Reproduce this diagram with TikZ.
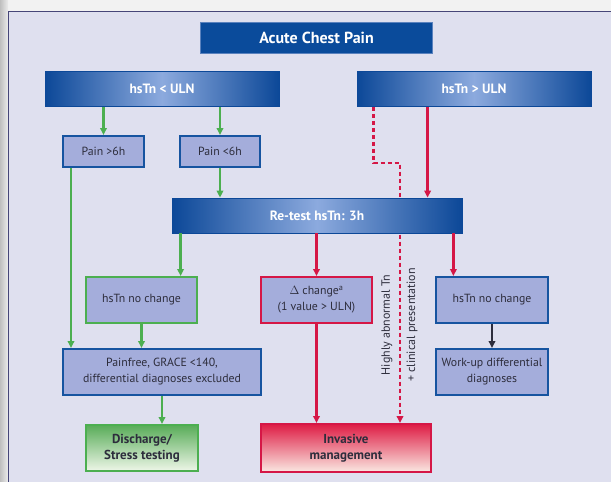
\documentclass[tikz,border=0pt]{standalone}
\usepackage{fontspec}
\setmainfont{PT Sans}
\usetikzlibrary{arrows.meta,backgrounds}
\definecolor{bgcol}{RGB}{223,224,239}
\definecolor{framecol}{RGB}{70,70,120}
\definecolor{bardark}{RGB}{12,72,152}
\definecolor{barlight}{RGB}{140,170,222}
\definecolor{titlecol}{RGB}{10,75,155}
\definecolor{boxfill}{RGB}{164,173,219}
\definecolor{boxblue}{RGB}{22,84,160}
\definecolor{boxgreen}{RGB}{76,175,80}
\definecolor{boxred}{RGB}{213,23,70}
\definecolor{txt}{RGB}{45,45,60}
\begin{document}
\begin{tikzpicture}[x=1pt,y=-1pt,
	bar/.style={draw=bardark,line width=0.8pt,left color=bardark,right color=bardark,middle color=barlight,text=white,font=\bfseries\fontsize{13.5}{16}\selectfont,minimum height=35pt,inner sep=0pt},
	box/.style={draw=boxblue,line width=2pt,fill=boxfill,text=txt,font=\fontsize{11.8}{16}\selectfont,align=center,minimum height=46pt,inner sep=0pt},
	gbox/.style={box,draw=boxgreen},
	rbox/.style={box,draw=boxred},
	arr/.style={line width=2.4pt,-{Triangle[length=7pt,width=6.5pt]}},
	garr/.style={arr,boxgreen},
	rarr/.style={arr,boxred},
	rotlabel/.style={rotate=90,text=txt,font=\fontsize{12}{13}\selectfont,inner sep=0pt}]
	\useasboundingbox (0,0) rectangle (611,482);
	%Hintergrund
	\begin{scope}[on background layer]
	\fill[gray!10] (0,0) rectangle (611,11);
	\fill[left color=gray!50,right color=gray!15] (0,0) rectangle (8,482);
	\draw[fill=bgcol,draw=framecol,line width=1pt] (8,11) rectangle (630,500);
	\end{scope}
	%Kopf
	\node[draw={rgb,255:red,90;green,130;blue,190},line width=0.8pt,fill=titlecol,text=white,font=\bfseries\fontsize{16}{18}\selectfont,minimum width=232pt,minimum height=31pt] (acp) at (316.5,37.5) {Acute Chest Pain};
	\node[bar,minimum width=234pt] (lo) at (162,89) {hsTn < ULN};
	\node[bar,minimum width=234pt] (hi) at (474,89) {hsTn > ULN};
	\node[box,minimum width=81pt,minimum height=31pt] (pg) at (103.5,151.5) {Pain >6h};
	\node[box,minimum width=80pt,minimum height=31pt] (pl) at (220,151.5) {Pain <6h};
	\node[bar,minimum width=290pt] (rt) at (317,215.5) {Re-test hsTn: 3h};
	%Mitte
	\node[gbox,minimum width=111pt] (nc1) at (141.5,300) {hsTn no change};
	\node[rbox,minimum width=111pt] (dc) at (316.5,300) {$\Delta$ change\textsuperscript{a}\\(1 value > ULN)};
	\node[box,minimum width=112pt] (nc2) at (492,300) {hsTn no change};
	\node[box,minimum width=198pt] (pf) at (162,372) {Painfree, GRACE <140,\\differential diagnoses excluded};
	\node[box,minimum width=112pt] (wu) at (492,372) {Work-up differential\\diagnoses};
	%Ende
	\node[box,draw=boxgreen,top color={rgb,255:red,88;green,172;blue,88},bottom color={rgb,255:red,238;green,246;blue,232},font=\bfseries\fontsize{13}{16}\selectfont,minimum width=112pt] (ds) at (142,448) {Discharge/\\Stress testing};
	\node[box,draw=boxred,top color={rgb,255:red,222;green,28;blue,68},bottom color={rgb,255:red,250;green,232;blue,226},font=\bfseries\fontsize{13}{16}\selectfont,minimum width=170pt,minimum height=48pt] (im) at (346,448) {Invasive\\management};
	\node[rotlabel] (hat) at (387,325) {Highly abnormal Tn};
	\node[rotlabel] (clp) at (412,325) {+ clinical presentation};
	%Pfeile
	\draw[garr] (pg |- lo.south) -- (pg.north);
	\draw[garr] (pl |- lo.south) -- (pl.north);
	\draw[garr] (pl.south) -- (pl |- rt.north);
	\draw[garr] ([xshift=9pt]pg.south west) -- ([xshift=9pt]pg.south west |- pf.north);
	\draw[garr] ([xshift=9pt]rt.south west) -- ([xshift=9pt]rt.south west |- nc1.north);
	\draw[rarr] (dc |- rt.south) -- (dc.north);
	\draw[rarr] ([xshift=-9pt]rt.south east) -- ([xshift=-9pt]rt.south east |- nc2.north);
	\draw[rarr] ([xshift=71pt]hi.south west) -- ([xshift=71pt]hi.south west |- rt.north);
	\draw[rarr] (dc.south) -- (dc.south |- im.north);
	\draw[garr] (nc1.south) -- (nc1.south |- pf.north);
	\draw[garr] (pf.south) -- (pf.south |- ds.north);
	\draw[arr,txt] (nc2.south) -- (wu.north);
	\coordinate (knick) at (400,163);
	\begin{scope}[on background layer]
	\draw[rarr,line width=2.4pt,dash pattern=on 4.5pt off 2.5pt] ([xshift=17pt]hi.south west) |- (knick) -- (knick |- im.north);
	\end{scope}
\end{tikzpicture}
\end{document}
